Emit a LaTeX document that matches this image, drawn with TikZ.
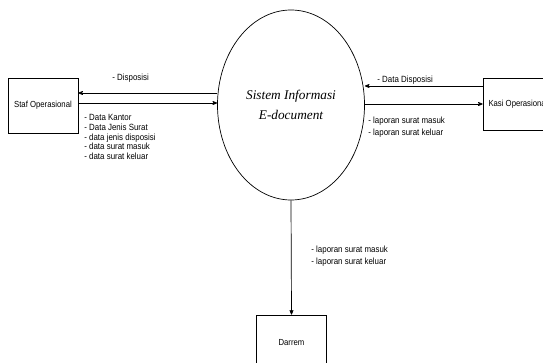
\documentclass[tikz,border=0pt]{standalone}
\usepackage{fontspec}
\setmainfont{Liberation Serif}
\newfontfamily\narrowsans[FakeStretch=0.88]{Liberation Sans}
\usetikzlibrary{arrows,shapes.geometric}

\begin{document}
\begin{tikzpicture}[x=1pt,y=-1pt,>=stealth',line width=0.7pt,
	box/.style={draw,minimum width=70pt,minimum height=55pt,font=\narrowsans\fontsize{8.8}{10}\selectfont},
	flowlbl/.style={inner sep=0pt,align=left,font=\narrowsans\fontsize{9}{10}\selectfont}]
	\useasboundingbox (0,0) rectangle (543,363);
	\clip (0,0) rectangle (543,363);
	\node[ellipse,draw,minimum width=147pt,minimum height=190pt,inner sep=0pt,
	      font=\itshape\fontsize{13.3}{20}\selectfont,align=center] (sis) at (291,105) {Sistem Informasi\\E-document};
	\node[box]            (staf)   at (43,105.5)  {Staf Operasional};
	\node[box,minimum height=52pt] (kasi)   at (518,104)   {Kasi Operasional};
	\node[box]            (darrem) at (291.5,342.5) {Darrem};
	\tikzset{flow/.style={->,shorten >=0pt}}
	% staf <-> sistem
	\draw[flow] (sis.west |- 0,93)  -- (staf.east |- 0,93);
	\draw[flow] (staf.east |- 0,103) -- (sis.west |- 0,103);
	% kasi <-> sistem
	\draw[flow] (kasi.west |- 0,86)  -- (sis.east |- 0,86);
	\draw[flow] (sis.east |- 0,104) -- (kasi.west |- 0,104);
	% sistem -> darrem
	\draw[flow] (sis.south) -- (darrem.north);
	% labels
	\node[flowlbl,anchor=west] (lblDisp) at (112,78) {- Disposisi};
	\node[flowlbl,anchor=north west,font=\narrowsans\fontsize{9}{9.8}\selectfont] (lblStaf) at (84,114)
	  {- Data Kantor\\- Data Jenis Surat\\- data jenis disposisi\\- data surat masuk\\- data surat keluar};
	\node[flowlbl,anchor=west] (lblDataDisp) at (377,80) {- Data Disposisi};
	\node[flowlbl,anchor=north west,font=\narrowsans\fontsize{9}{11.3}\selectfont] (lblKasi) at (368,117)
	  {- laporan surat masuk\\- laporan surat keluar};
	\node[flowlbl,anchor=north west,font=\narrowsans\fontsize{9}{11.5}\selectfont] (lblDarrem) at (311,246)
	  {- laporan surat masuk\\- laporan surat keluar};
\end{tikzpicture}
\end{document}
